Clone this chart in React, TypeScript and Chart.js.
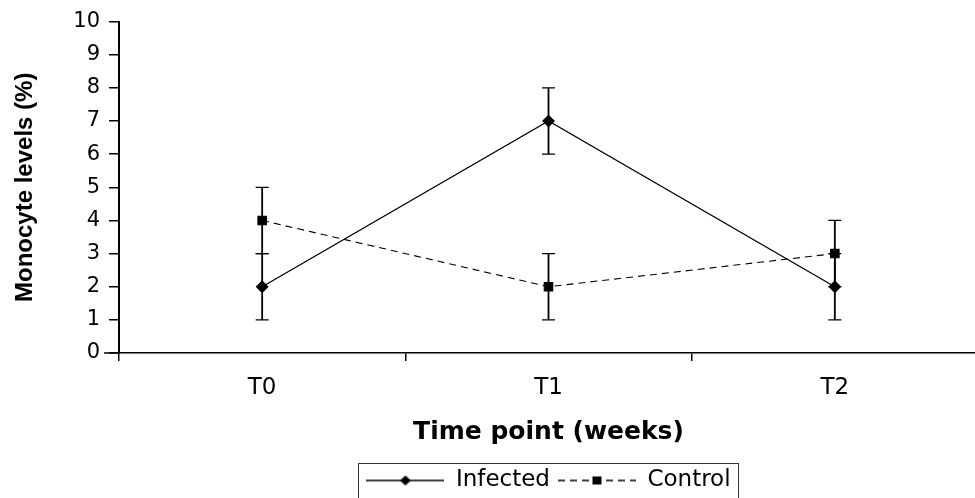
import { useEffect, useRef } from "react";
import { Chart, registerables } from "chart.js";

Chart.register(...registerables);

// Sampling times and monocyte levels (%) with their error margins
const timePoints = ["T0", "T1", "T2"];
const infectedMeans = [2, 7, 2];
const infectedErrors = [1, 1, 1];
const controlMeans = [4, 2, 3];
const controlErrors = [1, 1, 1];
const seriesNames = ["Infected", "Control"];

// Value axis range
const yMin = 0;
const yMax = 10;
const yStep = 1;

const errorsBySeries = [infectedErrors, controlErrors];

// Vertical error bars with caps, placed through the chart's own scales
const errorBarsPlugin = {
  id: "errorBars",
  beforeDatasetsDraw(chart: any) {
    const { ctx, scales } = chart;
    const x = scales.x;
    const y = scales.y;
    const capHalf = 6.5;
    chart.data.datasets.forEach((ds: any, i: number) => {
      const errs = errorsBySeries[i];
      ds.data.forEach((v: number, j: number) => {
        const px = x.getPixelForValue(j);
        const top = y.getPixelForValue(v + errs[j]);
        const bottom = y.getPixelForValue(v - errs[j]);
        ctx.save();
        ctx.strokeStyle = "#000";
        ctx.lineWidth = 1.8;
        ctx.beginPath();
        ctx.moveTo(px, top);
        ctx.lineTo(px, bottom);
        ctx.stroke();
        ctx.lineWidth = 1.2;
        ctx.beginPath();
        ctx.moveTo(px - capHalf, top);
        ctx.lineTo(px + capHalf, top);
        ctx.moveTo(px - capHalf, bottom);
        ctx.lineTo(px + capHalf, bottom);
        ctx.stroke();
        ctx.restore();
      });
    });
  },
};

// Frame around the legend entries, plus the short stub of the category
// axis that pokes out to the left of the value axis
const framePlugin = {
  id: "legendFrame",
  afterDraw(chart: any) {
    const { ctx, chartArea } = chart;
    ctx.save();
    ctx.strokeStyle = "#000";
    ctx.lineWidth = 1.5;
    ctx.beginPath();
    ctx.moveTo(chartArea.left - 15, chartArea.bottom);
    ctx.lineTo(chartArea.left, chartArea.bottom);
    ctx.stroke();
    ctx.restore();

    const legend = chart.legend;
    if (!legend || !legend.legendHitBoxes || !legend.legendHitBoxes.length) return;
    const boxes = legend.legendHitBoxes;
    const left = Math.min(...boxes.map((b: any) => b.left)) - 8;
    const right = Math.max(...boxes.map((b: any) => b.left + b.width)) + 8;
    const top = boxes[0].top - 6;
    ctx.save();
    ctx.strokeStyle = "#333";
    ctx.lineWidth = 1;
    ctx.strokeRect(Math.round(left) + 0.5, Math.round(top) + 0.5, Math.round(right - left), 60);
    ctx.restore();
  },
};

const SWATCH_W = 78;

// Legend swatch: a line segment (solid or dashed) with the series marker in its middle
function makeSwatch(dashed: boolean, marker: "diamond" | "square") {
  const c = document.createElement("canvas");
  const w = SWATCH_W;
  const h = 14;
  c.width = w;
  c.height = h;
  const g = c.getContext("2d")!;
  g.strokeStyle = "#000";
  g.lineWidth = 1.3;
  if (dashed) g.setLineDash([7, 5]);
  g.beginPath();
  g.moveTo(0, h / 2);
  g.lineTo(w, h / 2);
  g.stroke();
  g.setLineDash([]);
  g.fillStyle = "#000";
  const cx = w / 2;
  const cy = h / 2;
  if (marker === "diamond") {
    g.beginPath();
    g.moveTo(cx, cy - 5);
    g.lineTo(cx + 5.5, cy);
    g.lineTo(cx, cy + 5);
    g.lineTo(cx - 5.5, cy);
    g.closePath();
    g.fill();
  } else {
    g.fillRect(cx - 4.5, cy - 4, 9, 8);
  }
  return c;
}

export default function App() {
  const canvasRef = useRef<HTMLCanvasElement | null>(null);

  useEffect(() => {
    if (!canvasRef.current) return;
    const swatches = [makeSwatch(false, "diamond"), makeSwatch(true, "square")];

    const chart = new Chart(canvasRef.current, {
      type: "line",
      data: {
        labels: timePoints,
        datasets: [
          {
            label: seriesNames[0],
            data: infectedMeans,
            borderColor: "#000",
            backgroundColor: "#000",
            borderWidth: 1.3,
            pointStyle: "rectRot",
            pointRadius: 5.5,
            pointBackgroundColor: "#000",
            pointBorderColor: "#000",
            tension: 0,
            fill: false,
          },
          {
            label: seriesNames[1],
            data: controlMeans,
            borderColor: "#000",
            backgroundColor: "#000",
            borderWidth: 1.1,
            borderDash: [7, 5],
            pointStyle: "rect",
            pointRadius: 6,
            pointBackgroundColor: "#000",
            pointBorderColor: "#000",
            tension: 0,
            fill: false,
          },
        ],
      },
      options: {
        responsive: true,
        maintainAspectRatio: false,
        animation: false,
        layout: { autoPadding: false, padding: { top: 20, bottom: -4, left: 0, right: 0 } },
        plugins: {
          tooltip: { enabled: false },
          legend: {
            position: "bottom",
            fullSize: false,
            labels: {
              color: "#000",
              font: { family: "DejaVu Sans", size: 23 },
              padding: 8,
              usePointStyle: true,
              pointStyleWidth: SWATCH_W,
              generateLabels: (c: any) => {
                const items = Chart.defaults.plugins.legend.labels.generateLabels(c);
                return items.map((it: any, i: number) => ({ ...it, pointStyle: swatches[i] }));
              },
            },
          },
        },
        scales: {
          x: {
            type: "category",
            offset: true,
            grid: {
              offset: true,
              drawOnChartArea: false,
              tickLength: 8,
              color: "#000",
              lineWidth: 1.5,
            },
            border: { color: "#000", width: 1.5 },
            ticks: {
              color: "#000",
              font: { family: "DejaVu Sans", size: 23 },
              padding: 13.5,
            },
            title: {
              display: true,
              text: "Time point (weeks)",
              color: "#000",
              font: { family: "DejaVu Sans", weight: "bold", size: 25, lineHeight: 1.2 },
              padding: { top: 0, bottom: 14 },
            },
            afterFit: (s: any) => {
              s.height = 108;
              s.paddingLeft = 0;
              s.paddingRight = 0;
            },
          },
          y: {
            min: yMin,
            max: yMax,
            ticks: {
              stepSize: yStep,
              color: "#000",
              font: { family: "DejaVu Sans", size: 21 },
              padding: 9,
            },
            grid: {
              drawOnChartArea: false,
              tickLength: 10,
              color: "#000",
              lineWidth: 1.5,
            },
            border: { color: "#000", width: 2 },
            title: {
              display: true,
              text: "Monocyte levels (%)",
              color: "#000",
              font: { family: "Liberation Sans", weight: "bold", size: 24, lineHeight: 1 },
              padding: { top: 13, bottom: 0 },
            },
            afterFit: (s: any) => {
              s.width = 119;
            },
          },
        },
      },
      plugins: [errorBarsPlugin, framePlugin],
    } as any);

    return () => chart.destroy();
  }, []);

  // The plot runs slightly past the right edge of the view, so the
  // category axis has no visible end tick there
  return (
    <div style={{ position: "fixed", left: 0, top: 0, width: 975, height: 498, overflow: "hidden", background: "#fff" }}>
      <div style={{ position: "relative", width: 978, height: 498 }}>
        <canvas ref={canvasRef} />
      </div>
    </div>
  );
}
